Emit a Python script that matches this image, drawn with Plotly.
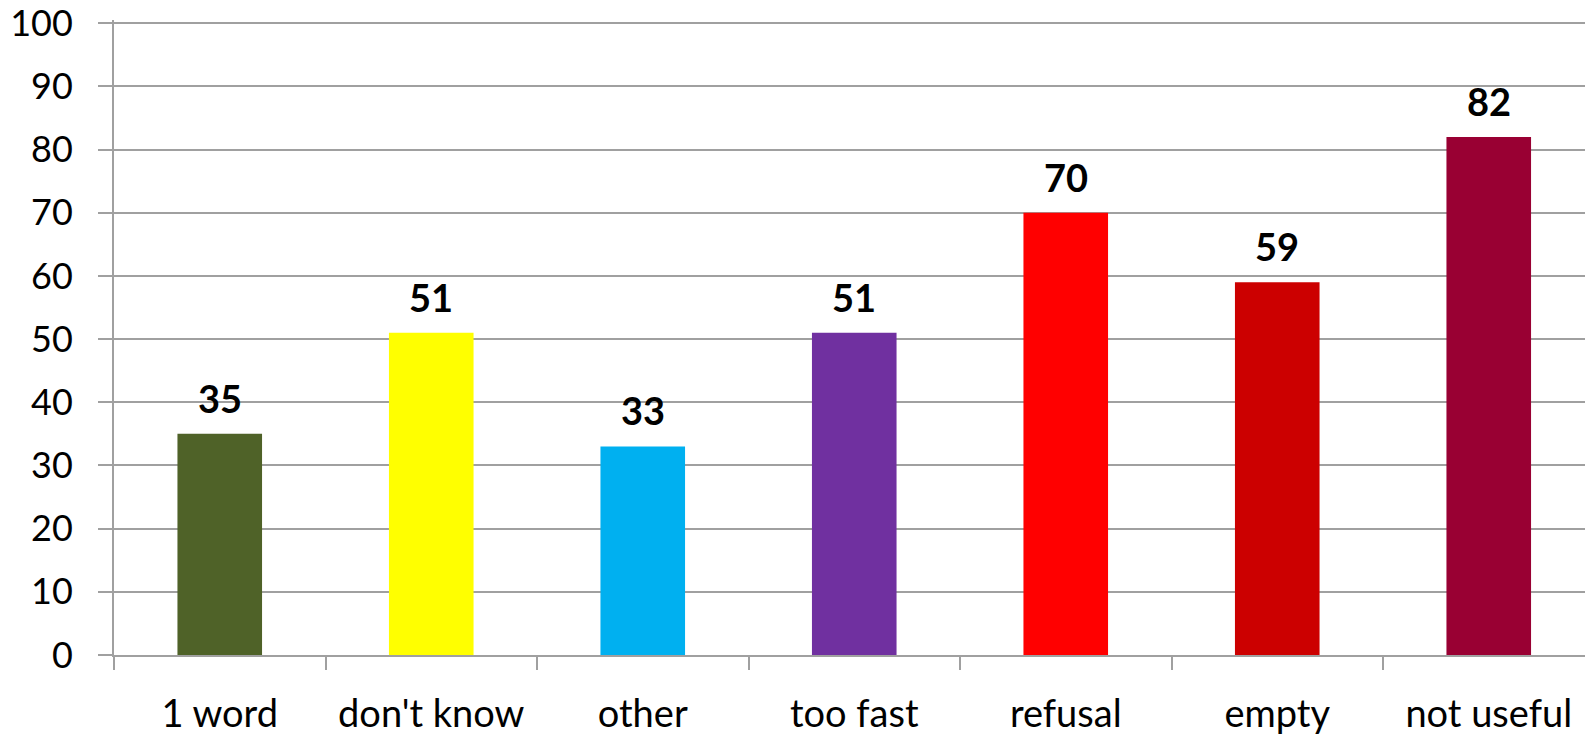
import plotly.graph_objects as go

categories = ["1 word", "don't know", "other", "too fast", "refusal", "empty", "not useful"]
values = [35, 51, 33, 51, 70, 59, 82]
bar_colors = ["#4F6228", "#FFFF00", "#00B0F0", "#7030A0", "#FF0000", "#CC0000", "#990033"]
y_ticks = [0, 10, 20, 30, 40, 50, 60, 70, 80, 90, 100]

W, H = 1585, 735
FONT = "Lato, 'Open Sans', sans-serif"
GRID = "#A0A0A0"

fig = go.Figure(
    go.Bar(
        x=categories,
        y=values,
        marker=dict(color=bar_colors, line=dict(width=0)),
        width=0.4,
        hoverinfo="skip",
    )
)

# value labels above each bar
for cat, val in zip(categories, values):
    fig.add_annotation(
        x=cat, y=val, text=f"<b>{val}</b>", showarrow=False,
        yanchor="middle", yshift=36,
        font=dict(family=FONT, size=38, color="#000000"),
    )

left, right = 114, 0
plot_w = W - left - right
cat_px = 211.5  # pixel width of one category slot

fig.update_layout(
    width=W, height=H,
    margin=dict(l=left, r=right, t=20, b=77, pad=0),
    paper_bgcolor="white", plot_bgcolor="white",
    showlegend=False,
    font=dict(family=FONT, size=38, color="#000000"),
    xaxis=dict(
        type="category",
        range=[-0.5, -0.5 + plot_w / cat_px],
        showline=True, linecolor=GRID, linewidth=2,
        ticks="outside", tickson="boundaries", ticklen=13, tickwidth=2, tickcolor=GRID,
        showgrid=False,
        tickfont=dict(family=FONT, size=38, color="#000000"),
        ticklabelstandoff=24,
    ),
    yaxis=dict(
        range=[0, 100.5],
        tickvals=y_ticks,
        showline=True, linecolor=GRID, linewidth=2,
        showgrid=True, gridcolor=GRID, gridwidth=2,
        zeroline=False,
        ticks="outside", ticklen=14, tickwidth=2, tickcolor=GRID,
        tickfont=dict(family=FONT, size=36, color="#000000"),
        ticklabelstandoff=18,
        ticklabeloverflow="allow",
    ),
)

fig.write_html("out.html")
